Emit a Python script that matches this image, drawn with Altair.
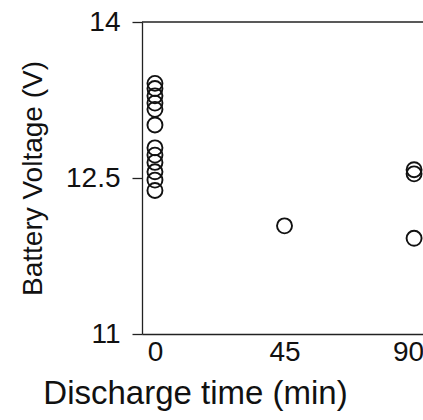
import altair as alt
import pandas as pd

# Battery voltage readings at each discharge time
time_min = [0, 0, 0, 0, 0, 0, 0, 0, 0, 0, 0, 0, 45, 90, 90, 90]
voltage = [13.41, 13.36, 13.29, 13.22, 13.16, 13.01, 12.79, 12.72, 12.65, 12.56, 12.48, 12.38,
           12.04, 12.58, 12.54, 11.92]

y_ticks = [11, 12.5, 14]
x_ticks = [0, 45, 90]

df = pd.DataFrame({"time": time_min, "voltage": voltage})

FONT = "Liberation Sans"
INK = "#111"

x_enc = alt.X(
    "time:Q",
    scale=alt.Scale(domain=[-4.5, 93.1], nice=False, zero=False),
    axis=alt.Axis(
        values=x_ticks,
        format="d",
        title="Discharge time (min)",
        ticks=False,
        grid=False,
        domainColor="#222",
        domainWidth=1.3,
        labelFont=FONT,
        labelFontSize=28,
        labelColor=INK,
        labelPadding=4,
        labelFlush=False,
        labelBound=False,
        labelOffset={"condition": {"test": "datum.value == 90", "value": -6}, "value": 0},
        titleFont=FONT,
        titleFontSize=33,
        titleFontWeight="normal",
        titleColor=INK,
        titleX=53,
        titleY=59,
        titleBaseline="middle",
        titleAlign="center",
    ),
)

y_enc = alt.Y(
    "voltage:Q",
    scale=alt.Scale(domain=[11, 14], nice=False, zero=False),
    axis=alt.Axis(
        values=y_ticks,
        format="~f",
        title="Battery Voltage (V)",
        grid=False,
        tickSize=10,
        tickColor="#222",
        tickWidth=1.3,
        domainColor="#222",
        domainWidth=1.3,
        labelFont=FONT,
        labelFontSize=28,
        labelColor=INK,
        labelPadding=12,
        labelFlush=False,
        titleFont=FONT,
        titleFontSize=28,
        titleFontWeight="normal",
        titleColor=INK,
        titleAngle=-90,
        titleX=-109,
        titleY=156,
        titleBaseline="middle",
        titleAlign="center",
    ),
)

points = alt.Chart(df).mark_point(
    shape="circle", filled=False, size=225, color=INK, strokeWidth=1.9, opacity=1, clip=True
).encode(x=x_enc, y=y_enc)

top_line = alt.Chart(pd.DataFrame({"v": [14]})).mark_rule(color="#222", strokeWidth=1.3).encode(
    y=alt.Y("v:Q")
)

chart = (
    alt.layer(points, top_line)
    .properties(
        width=281,
        height=312,
        padding={"left": 142, "top": 22, "right": 0, "bottom": 86},
        autosize="none",
        background="white",
    )
    .configure_view(stroke=None)
)

chart.save("out.html", embed_options={"renderer": "svg", "actions": False})
